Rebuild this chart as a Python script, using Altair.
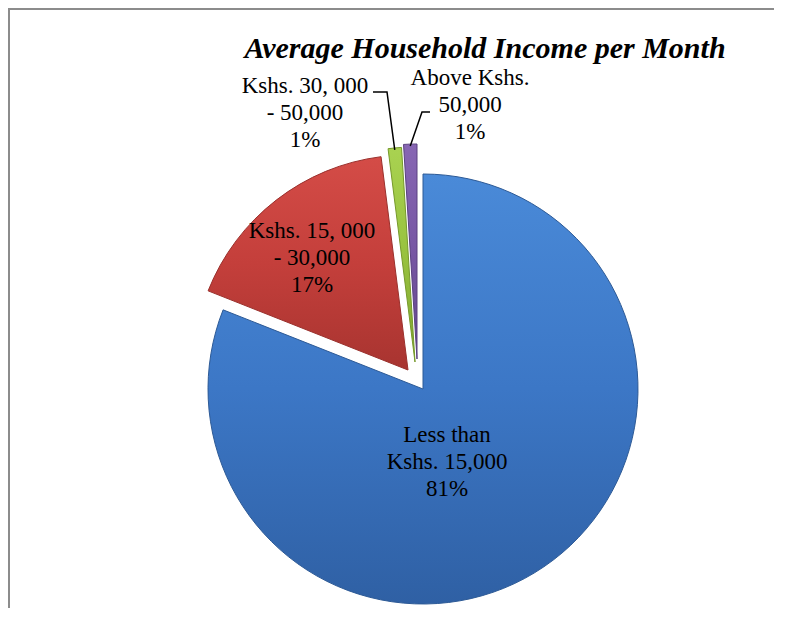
import altair as alt
import pandas as pd
import math

# ---------------- data ----------------
categories = [
    "Less than Kshs. 15,000",
    "Kshs. 15, 000 - 30,000",
    "Kshs. 30, 000 - 50,000",
    "Above Kshs. 50,000",
]
values = [81, 17, 1, 1]
label_first = ["Less than", "Kshs. 15, 000", "Kshs. 30, 000", "Above Kshs."]
label_second = ["Kshs. 15,000", "- 30,000", "- 50,000", "50,000"]
pct_labels = ["81%", "17%", "1%", "1%"]

# ---------------- styles / layout ----------------
PAD_R, PAD_B = 30, 20
W, H = 766 - PAD_R, 530 - PAD_B
PAD_TOP = 70
CX, CY, R = 415, 311, 215
explode = [(0, 0), (-15, -19), (-8, -27), (-6, -30)]
grad_stops = [
    ("#4a8ad8", "#3c77c6", "#2f60a4"),
    ("#d44c47", "#c43f3b", "#a83430"),
    ("#a9d251", "#98c23f", "#7fa52f"),
    ("#8766b3", "#7757a4", "#62478b"),
]
stroke_cols = ["#2d5a96", "#9a302c", "#76992b", "#5a4180"]
# first-line baseline of each label (plot coordinates)
label_pos = [(439, 364), (304, 160), (297, 15), (462, 7)]
FONT = "Liberation Serif"

df = pd.DataFrame({"category": categories, "value": values, "order": list(range(len(values)))})

theta_scale = alt.Scale(domain=[0, sum(values)])


def grad(c):
    return alt.Gradient(
        gradient="linear", x1=0, y1=0, x2=0, y2=1,
        stops=[alt.GradientStop(color=c[0], offset=0),
               alt.GradientStop(color=c[1], offset=0.5),
               alt.GradientStop(color=c[2], offset=1)],
    )


layers = []
for i in range(len(values)):
    dx, dy = explode[i]
    layers.append(
        alt.Chart(df)
        .transform_window(cum="sum(value)", sort=[alt.SortField("order")])
        .transform_calculate(start="datum.cum - datum.value")
        .transform_filter(f"datum.order == {i}")
        .mark_arc(outerRadius=R, fill=grad(grad_stops[i]), stroke=stroke_cols[i], strokeWidth=1)
        .encode(
            theta=alt.Theta("start:Q", scale=theta_scale),
            theta2="cum:Q",
            x=alt.value(CX + dx),
            y=alt.value(CY + dy),
            tooltip=["category:N", "value:Q"],
        )
    )

# leader lines for the two small slices (from label elbow to slice tip)
cum = 0
tips = []
for i, v in enumerate(values):
    mid = (cum + v / 2) / sum(values) * 2 * math.pi
    cum += v
    dx, dy = explode[i]
    tips.append((CX + dx + R * math.sin(mid), CY + dy - R * math.cos(mid)))

leader_rows = []
elbows = {2: [(365, 14), (379, 14)], 3: [(422, 34), (414, 34)]}
for i, pts in elbows.items():
    allpts = pts + [(tips[i][0], tips[i][1] + 2)]
    for k, (px, py) in enumerate(allpts):
        leader_rows.append({"seg": categories[i], "px": px, "py": py, "k": k})
leaders = (
    alt.Chart(pd.DataFrame(leader_rows))
    .mark_line(color="black", strokeWidth=1.5)
    .encode(
        x=alt.X("px:Q", scale=None),
        y=alt.Y("py:Q", scale=None),
        detail="seg:N",
        order="k:Q",
    )
)

texts = []
for i in range(len(values)):
    lx, ly = label_pos[i]
    texts.append(
        alt.Chart(df)
        .transform_filter(f"datum.order == {i}")
        .mark_text(
            text=[label_first[i], label_second[i], pct_labels[i]],
            font=FONT, fontSize=23, lineHeight=27, color="black",
            align="center", baseline="alphabetic",
        )
        .encode(x=alt.value(lx), y=alt.value(ly))
    )

frame_v = alt.Chart(df).mark_rule(color="#8c8c8c", strokeWidth=2).encode(
    x=alt.value(1), y=alt.value(-PAD_TOP + 1), y2=alt.value(H + PAD_B)
)
frame_h = alt.Chart(df).mark_rule(color="#8c8c8c", strokeWidth=2).encode(
    x=alt.value(0), x2=alt.value(W + PAD_R), y=alt.value(-PAD_TOP + 1)
)

chart = (
    alt.layer(frame_v, frame_h, *layers, leaders, *texts)
    .properties(
        width=W,
        height=H,
        padding={"left": 0, "top": PAD_TOP, "right": PAD_R, "bottom": PAD_B},
        autosize=alt.AutoSizeParams(type="none"),
        title=alt.TitleParams(
            "Average Household Income per Month",
            font=FONT, fontSize=30, fontStyle="italic", fontWeight="bold",
            color="black", anchor="middle", frame="group", dx=485 - 8 - W / 2, offset=-80,
            baseline="alphabetic",
        ),
    )
    .configure_view(strokeWidth=0, stroke="transparent")
)

chart.save("out.html", embed_options={"renderer": "svg", "actions": False})
